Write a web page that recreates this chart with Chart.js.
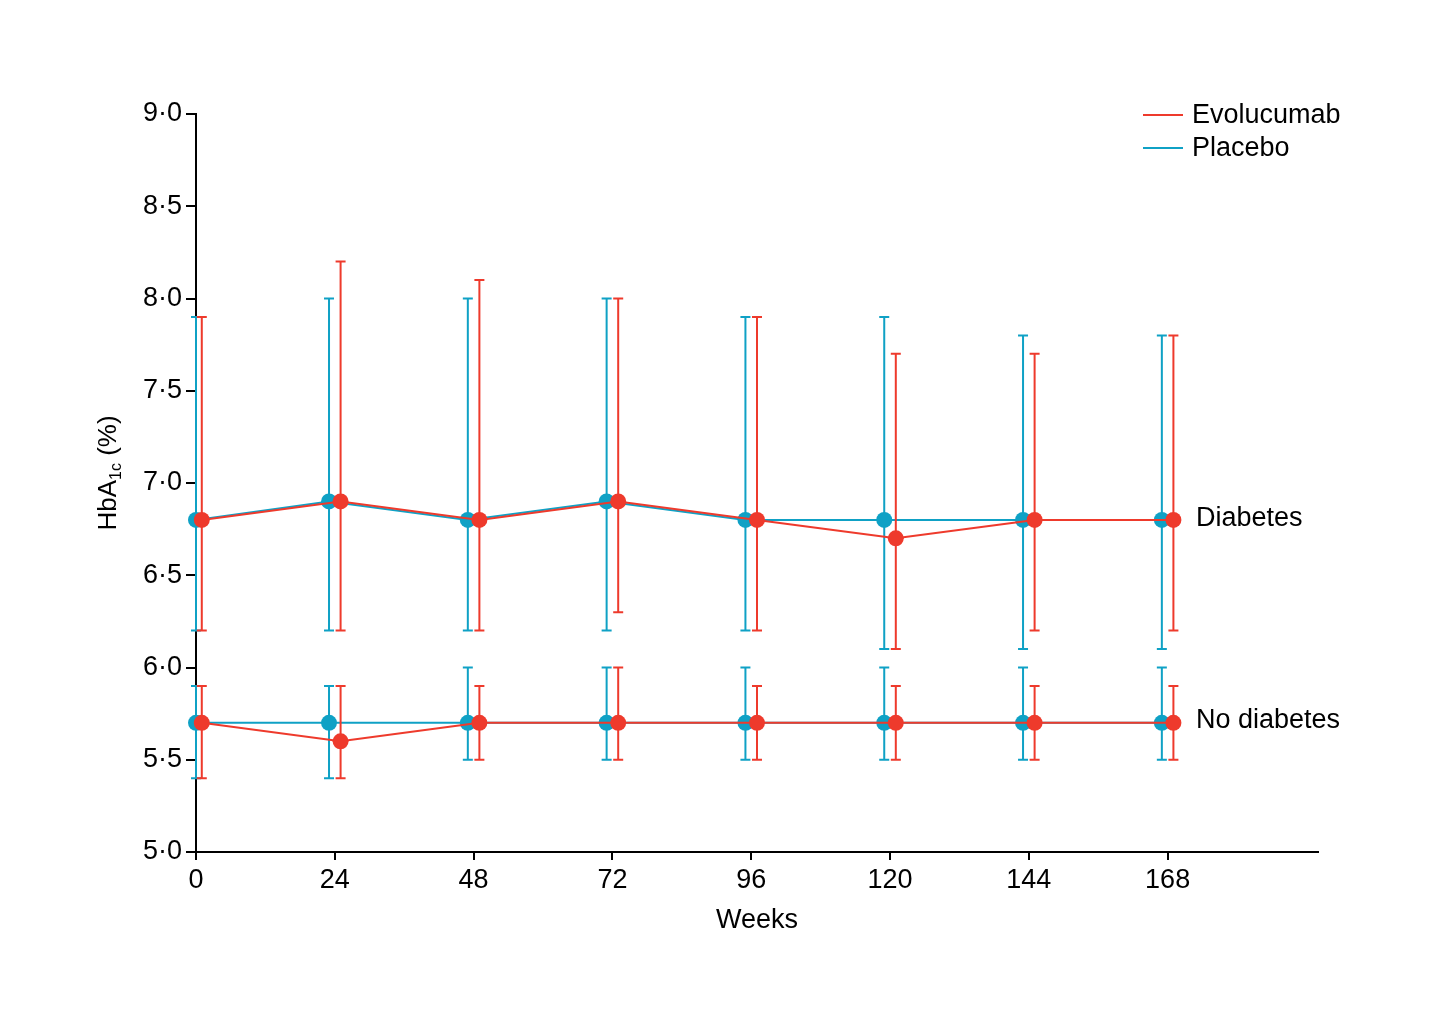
<!DOCTYPE html>
<html><head><meta charset="utf-8">
<script src="https://cdn.jsdelivr.net/npm/chart.js@4.4.1/dist/chart.umd.min.js"></script>
<style>html,body{margin:0;padding:0;background:#fff}#w{width:1448px;height:1011px}</style>
</head><body><div id="w"><canvas id="c"></canvas></div>
<script>
const weeks = [0, 24, 48, 72, 96, 120, 144, 168];
const placeboWeeks = [0, 23, 47, 71, 95, 119, 143, 167];
const evoWeeks = [1, 25, 49, 73, 97, 121, 145, 169];
const xTicks = [0, 24, 48, 72, 96, 120, 144, 168];
const yTicks = [5.0, 5.5, 6.0, 6.5, 7.0, 7.5, 8.0, 8.5, 9.0];

const diabEvoMean = [6.8, 6.9, 6.8, 6.9, 6.8, 6.7, 6.8, 6.8];
const diabEvoLow  = [6.2, 6.2, 6.2, 6.3, 6.2, 6.1, 6.2, 6.2];
const diabEvoHigh = [7.9, 8.2, 8.1, 8.0, 7.9, 7.7, 7.7, 7.8];

const diabPlaMean = [6.8, 6.9, 6.8, 6.9, 6.8, 6.8, 6.8, 6.8];
const diabPlaLow  = [6.2, 6.2, 6.2, 6.2, 6.2, 6.1, 6.1, 6.1];
const diabPlaHigh = [7.9, 8.0, 8.0, 8.0, 7.9, 7.9, 7.8, 7.8];

const noDiabEvoMean = [5.7, 5.6, 5.7, 5.7, 5.7, 5.7, 5.7, 5.7];
const noDiabEvoLow  = [5.4, 5.4, 5.5, 5.5, 5.5, 5.5, 5.5, 5.5];
const noDiabEvoHigh = [5.9, 5.9, 5.9, 6.0, 5.9, 5.9, 5.9, 5.9];

const noDiabPlaMean = [5.7, 5.7, 5.7, 5.7, 5.7, 5.7, 5.7, 5.7];
const noDiabPlaLow  = [5.4, 5.4, 5.5, 5.5, 5.5, 5.5, 5.5, 5.5];
const noDiabPlaHigh = [5.9, 5.9, 6.0, 6.0, 6.0, 6.0, 6.0, 6.0];

const RED = '#EE3A2C';
const BLUE = '#0FA1C5';
const FONT = "'Liberation Sans', Arial, sans-serif";
const FS = 27;

function mk(label, xs, mean, low, high, color) {
  return {
    label, borderColor: color, backgroundColor: color,
    data: xs.map((x, i) => ({x, y: mean[i], lo: low[i], hi: high[i]})),
    showLine: true, borderWidth: 2, pointRadius: 8, pointHoverRadius: 8,
    pointBorderWidth: 0, clip: false, tension: 0
  };
}

const errPlugin = {
  id: 'err',
  beforeDatasetDraw(chart, args) {
    const ds = chart.data.datasets[args.index];
    const xs = chart.scales.x, ys = chart.scales.y, ctx = chart.ctx;
    ctx.save();
    ctx.strokeStyle = ds.borderColor; ctx.lineWidth = 2;
    ds.data.forEach(p => {
      const px = xs.getPixelForValue(p.x);
      const y1 = ys.getPixelForValue(p.lo), y2 = ys.getPixelForValue(p.hi);
      ctx.beginPath();
      ctx.moveTo(px, y1); ctx.lineTo(px, y2);
      ctx.moveTo(px - 5, y1); ctx.lineTo(px + 5, y1);
      ctx.moveTo(px - 5, y2); ctx.lineTo(px + 5, y2);
      ctx.stroke();
    });
    ctx.restore();
  },
  afterDraw(chart) {
    const ctx = chart.ctx, ys = chart.scales.y, xs = chart.scales.x;
    ctx.save();
    ctx.fillStyle = '#000';
    ctx.textBaseline = 'middle';
    ctx.font = FS + 'px ' + FONT;
    ctx.fillText('Diabetes', 1196, ys.getPixelForValue(6.8) - 1);
    ctx.fillText('No diabetes', 1196, ys.getPixelForValue(5.7) - 2);
    ctx.textAlign = 'center';
    ctx.fillText('Weeks', (xs.left + xs.right) / 2, 921);
    ctx.textAlign = 'left';
    // legend
    const leg = [['Evolucumab', RED, 115], ['Placebo', BLUE, 148]];
    leg.forEach(([t, c, y]) => {
      ctx.strokeStyle = c; ctx.lineWidth = 2;
      ctx.beginPath(); ctx.moveTo(1143, y); ctx.lineTo(1183, y); ctx.stroke();
      ctx.fillStyle = '#000';
      ctx.fillText(t, 1192, y + 1);
    });
    // y title with subscript
    ctx.translate(106, 473);
    ctx.rotate(-Math.PI / 2);
    ctx.textBaseline = 'alphabetic';
    ctx.font = '26px ' + FONT;
    const w0 = ctx.measureText('HbA').width;
    ctx.font = '16px ' + FONT;
    const w1 = ctx.measureText('1c').width;
    ctx.font = '26px ' + FONT;
    const w2 = ctx.measureText(' (%)').width;
    let x = -(w0 + w1 + w2) / 2;
    const base = 10;
    ctx.fillText('HbA', x, base); x += w0;
    ctx.font = '16px ' + FONT;
    ctx.fillText('1c', x, base + 5); x += w1;
    ctx.font = '26px ' + FONT;
    ctx.fillText(' (%)', x, base);
    ctx.restore();
  }
};

new Chart(document.getElementById('c'), {
  type: 'scatter',
  data: {
    datasets: [
      mk('Evolucumab diabetes', evoWeeks, diabEvoMean, diabEvoLow, diabEvoHigh, RED),
      mk('Evolucumab no diabetes', evoWeeks, noDiabEvoMean, noDiabEvoLow, noDiabEvoHigh, RED),
      mk('Placebo diabetes', placeboWeeks, diabPlaMean, diabPlaLow, diabPlaHigh, BLUE),
      mk('Placebo no diabetes', placeboWeeks, noDiabPlaMean, noDiabPlaLow, noDiabPlaHigh, BLUE)
    ]
  },
  options: {
    responsive: true, maintainAspectRatio: false, animation: false,
    layout: {padding: {top: 114, right: 130, left: 0, bottom: 0}},
    plugins: {legend: {display: false}, tooltip: {enabled: false}},
    scales: {
      x: {
        type: 'linear', min: 0, max: 194,
        afterBuildTicks: s => { s.ticks = xTicks.map(v => ({value: v})); },
        afterFit: s => { s.height = 159; },
        grid: {drawOnChartArea: false, drawTicks: true, tickLength: 8, color: '#000', lineWidth: 2},
        border: {color: '#000', width: 2},
        ticks: {color: '#000', font: {size: FS, family: FONT}, padding: 4, maxRotation: 0, autoSkip: false}
      },
      y: {
        type: 'linear', min: 5, max: 9,
        afterBuildTicks: s => { s.ticks = yTicks.map(v => ({value: v})); },
        afterFit: s => { s.width = 196; },
        grid: {drawOnChartArea: false, drawTicks: true, tickLength: 10, color: '#000', lineWidth: 2},
        border: {color: '#000', width: 2},
        ticks: {color: '#000', font: {size: FS, family: FONT}, padding: 4,
          callback: v => v.toFixed(1).replace('.', '·')}
      }
    }
  },
  plugins: [errPlugin]
});
</script></body></html>
